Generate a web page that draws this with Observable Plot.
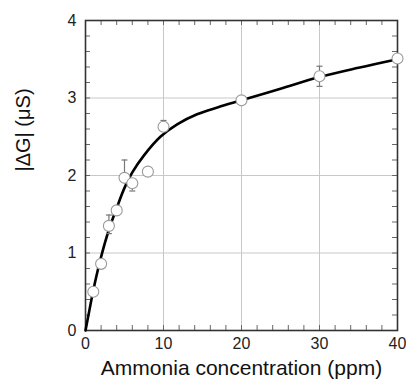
<!DOCTYPE html>
<html>
<head>
<meta charset="utf-8">
<script src="https://cdn.jsdelivr.net/npm/d3@7"></script>
<script src="https://cdn.jsdelivr.net/npm/@observablehq/plot@0.6"></script>
<style>
  html, body { margin: 0; padding: 0; background: #fff; }
  #chart { width: 406px; height: 385px; }
</style>
</head>
<body>
<div id="chart"></div>
<script>
// Measured data points
const ptX = [1, 2, 3, 4, 5, 6, 8, 10, 20, 30, 40];
const ptY = [0.50, 0.86, 1.35, 1.55, 1.97, 1.90, 2.05, 2.63, 2.97, 3.28, 3.51];

// Error bars (visible ones)
const errX  = [3, 5, 6, 10, 30];
const errLo = [1.25, 1.97, 1.80, 2.60, 3.15];
const errHi = [1.49, 2.20, 1.92, 2.71, 3.41];

// Fitted curve
const curveX = [0, 0.5, 1, 2, 3, 4, 5, 6, 7.5, 9.6, 11.75, 14.3, 17, 20, 25, 30, 35, 40];
const curveY = [0, 0.26, 0.52, 0.95, 1.30, 1.58, 1.84, 2.04, 2.26, 2.50, 2.66, 2.79, 2.88, 2.97, 3.12, 3.27, 3.39, 3.50];

// Tick labels
const xTicks = [0, 10, 20, 30, 40];
const yTicks = [0, 1, 2, 3, 4];
const xMinor = d3.range(2, 40, 2);
const yMinor = d3.range(1, 20).map(i => i / 5);
const xGrid = [10, 20, 30];
const yGrid = [1, 2, 3];

const xLabel = "Ammonia concentration (ppm)";
const yLabel = "|ΔG| (μS)";

const points = ptX.map((x, i) => ({x, y: ptY[i]}));
const errs = errX.map((x, i) => ({x, lo: errLo[i], hi: errHi[i]}));
const curve = curveX.map((x, i) => ({x, y: curveY[i]}));

const capSymbol = {
  draw(ctx, size) { ctx.moveTo(-3, 0); ctx.lineTo(3, 0); }
};

const W = 406, H = 385, ML = 85, MR = 9, MT = 20, MB = 55;
const FW = W - ML - MR, FH = H - MT - MB, TK = 5;

const chart = Plot.plot({
  width: W,
  height: H,
  marginLeft: ML,
  marginRight: MR,
  marginTop: MT,
  marginBottom: MB,
  style: {fontFamily: "'Liberation Sans', Arial, Helvetica, sans-serif", color: "#222", background: "#fff"},
  x: {domain: [0, 40]},
  y: {domain: [0, 4]},
  marks: [
    Plot.gridX(xGrid, {stroke: "#c8c8c8", strokeOpacity: 1, strokeWidth: 1}),
    Plot.gridY(yGrid, {stroke: "#c8c8c8", strokeOpacity: 1, strokeWidth: 1}),
    // minor inward ticks on all four sides
    Plot.tickX(xMinor, {x: d => d, insetTop: FH - TK, stroke: "#666"}),
    Plot.tickX(xMinor, {x: d => d, insetBottom: FH - TK, stroke: "#666"}),
    Plot.tickY(yMinor, {y: d => d, insetRight: FW - TK, stroke: "#666"}),
    Plot.tickY(yMinor, {y: d => d, insetLeft: FW - TK, stroke: "#666"}),
    // major tick labels
    Plot.axisX({anchor: "bottom", ticks: xTicks, tickSize: 0, tickPadding: 7, fontSize: 16, tickFormat: d3.format("d"), label: null}),
    Plot.axisY({anchor: "left", ticks: yTicks, tickSize: 0, tickPadding: 9, fontSize: 16, tickFormat: d3.format("d"), label: null}),
    Plot.frame({stroke: "#333", strokeWidth: 1.6}),
    // fitted curve
    Plot.line(curve, {x: "x", y: "y", curve: "catmull-rom", stroke: "#000", strokeWidth: 2.6}),
    // error bars
    Plot.ruleX(errs, {x: "x", y1: "lo", y2: "hi", stroke: "#777", strokeWidth: 1.2}),
    Plot.dot(errs, {x: "x", y: "hi", symbol: capSymbol, stroke: "#777", strokeWidth: 1.2}),
    Plot.dot(errs, {x: "x", y: "lo", symbol: capSymbol, stroke: "#777", strokeWidth: 1.2}),
    // data points
    Plot.dot(points, {x: "x", y: "y", r: 5.5, fill: "#fff", stroke: "#999", strokeWidth: 1.1}),
    // axis titles
    Plot.text([xLabel], {frameAnchor: "bottom", dy: 44, fontSize: 21, fill: "#111"}),
    Plot.text([yLabel], {frameAnchor: "left", dx: -62, dy: -4, rotate: -90, fontSize: 20, fill: "#111"})
  ]
});

document.getElementById("chart").appendChild(chart);
</script>
</body>
</html>
